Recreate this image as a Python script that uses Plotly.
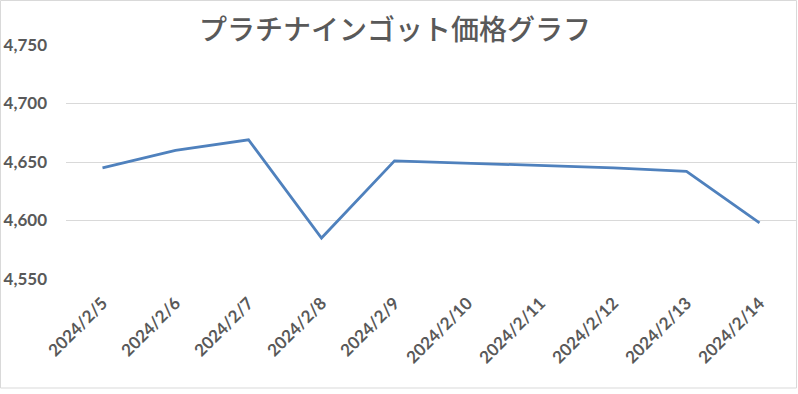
import plotly.graph_objects as go

dates = ["2024/2/5", "2024/2/6", "2024/2/7", "2024/2/8", "2024/2/9",
         "2024/2/10", "2024/2/11", "2024/2/12", "2024/2/13", "2024/2/14"]
prices = [4645, 4660, 4669, 4585, 4651, 4649, 4647, 4645, 4642, 4598]
y_ticks = [4550, 4600, 4650, 4700, 4750]
title_text = "プラチナインゴット価格グラフ"

W, H = 798, 394
L, R, T, B = 66, 2, 45, 115
pw, ph = W - L - R, H - T - B

fig = go.Figure()
fig.add_trace(go.Scatter(
    x=dates, y=prices, mode="lines",
    line=dict(color="#4F81BD", width=2.8),
    hoverinfo="x+y",
))

fig.update_layout(
    width=W, height=H,
    margin=dict(l=L, r=R, t=T, b=B),
    paper_bgcolor="white", plot_bgcolor="white",
    showlegend=False,
    title=dict(text=title_text, x=395 / W, xanchor="center",
               y=1 - 30 / H, yanchor="middle", xref="container", yref="container",
               font=dict(family="Noto Sans CJK JP", size=28, color="#595959", weight=500)),
    xaxis=dict(type="category", range=[-0.5, len(dates) - 0.5],
               showgrid=False, zeroline=False, showline=False,
               tickangle=-45, ticks="", ticklabelstandoff=10,
               tickfont=dict(family="Lato", size=17, color="#595959", weight="bold")),
    yaxis=dict(range=[y_ticks[0], y_ticks[-1]], tickvals=y_ticks,
               tickformat=",d", showgrid=True, gridcolor="#d9d9d9", gridwidth=1,
               zeroline=False, showline=False, ticks="", ticklabelstandoff=18,
               tickfont=dict(family="Lato", size=17, color="#595959", weight="bold")),
    shapes=[dict(type="rect", xref="paper", yref="paper",
                 x0=(0.5 - L) / pw, x1=(W - 1.5 - L) / pw,
                 y0=(H - B - 388) / ph, y1=(H - B - 0.5) / ph,
                 line=dict(color="#d9d9d9", width=1), layer="below")],
)

fig.write_html("out.html")
